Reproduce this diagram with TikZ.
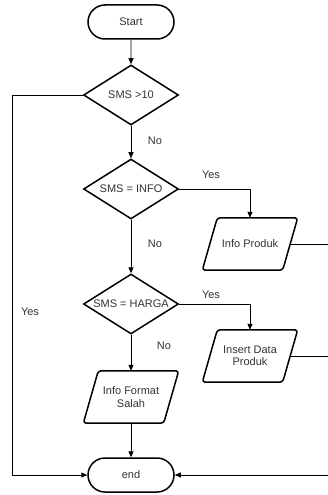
\documentclass[tikz,border=0pt]{standalone}
\usepackage{fontspec}
\setmainfont{Liberation Sans}
\usetikzlibrary{shapes.geometric,shapes.misc,arrows.meta}
\definecolor{txtgray}{HTML}{333333}
\begin{document}
\begin{tikzpicture}[x=1pt,y=-1pt,
  font=\fontsize{11}{12.5}\selectfont,
  term/.style={rounded rectangle, draw, line width=1.5pt, minimum width=86pt, minimum height=34pt, inner sep=0pt, text=txtgray},
  dec/.style={diamond, draw, line width=1.5pt, minimum width=95pt, minimum height=60pt, inner sep=0pt, text=txtgray},
  io/.style={rectangle, minimum width=80pt, minimum height=52pt, align=center, inner sep=1pt, text=txtgray},
  ioline/.style={line width=1.5pt, rounded corners=3pt},
  conn/.style={line width=0.8pt, -{Triangle[length=6pt,width=5pt]}},
  plain/.style={line width=0.8pt},
  lbl/.style={text=txtgray, inner sep=0pt}]
\useasboundingbox (0,0) rectangle (328,495);
\node[term] (start) at (131,22) {Start};
\node[dec] (d1) at (131,95) {\makebox[0pt]{SMS >10}};
\node[dec] (d2) at (131,189) {\makebox[0pt]{SMS = INFO}};
\node[dec] (d3) at (131,304) {\makebox[0pt]{SMS = HARGA}};
\node[io] (ip) at (250,244) {Info Produk};
\node[io] (idp) at (250,356) {Insert Data\\Produk};
\node[io] (ifs) at (131,397) {Info Format\\Salah};
\node[term] (end) at (131,475) {end};
\foreach \n in {ip,idp,ifs}
  \draw[ioline] ([xshift=-7.5pt]\n.south west) -- ([xshift=7.5pt]\n.north west)
     -- ([xshift=7.5pt]\n.north east) -- ([xshift=-7.5pt]\n.south east) -- cycle;
\coordinate (l1) at (12,95);
\coordinate (r1) at (330,244);
\coordinate (r2) at (330,356);
\coordinate (r3) at (330,475);
\draw[conn] (start) -- (d1);
\draw[conn] (d1) -- (d2);
\draw[conn] (d2) -- (d3);
\draw[conn] (d3) -- (ifs);
\draw[conn] (ifs) -- (end);
\draw[conn] (d2.east) -| (ip.north);
\draw[conn] (d3.east) -| (idp.north);
\draw[conn] (d1.west) -- (l1) |- (end.west);
\draw[plain] (ip.east) -- (r1);
\draw[plain] (idp.east) -- (r2);
\draw[conn] (r1) -- (r3) -- (end.east);
\node[lbl] (n1) at (155,141) {No};
\node[lbl] (n2) at (155,244) {No};
\node[lbl] (n3) at (164,346) {No};
\node[lbl] (y1) at (211,175) {Yes};
\node[lbl] (y2) at (211,295) {Yes};
\node[lbl] (y3) at (30,312) {Yes};
\end{tikzpicture}
\end{document}
